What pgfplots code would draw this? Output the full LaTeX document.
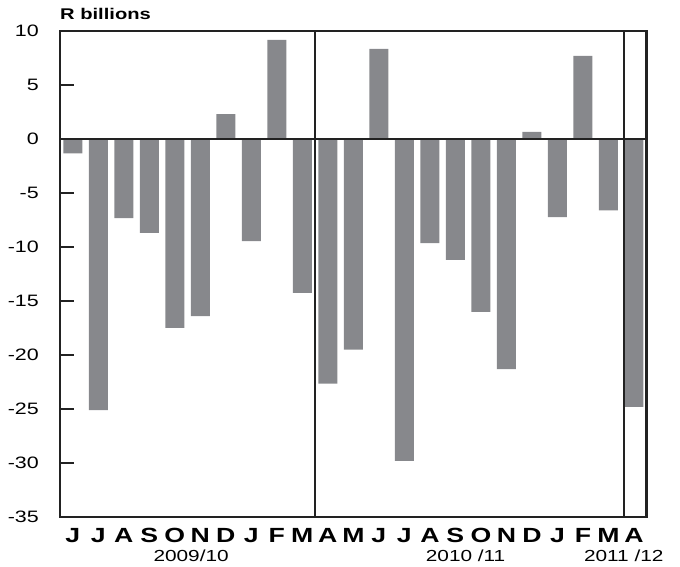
\documentclass[border=0pt]{standalone}
\usepackage{fontspec}
\setmainfont{Liberation Sans}[FakeStretch=1.3]
\usepackage{pgfplots}
\pgfplotsset{compat=1.18}
\definecolor{barcol}{HTML}{87888C}
\definecolor{linecol}{HTML}{222222}
\begin{document}
\begin{tikzpicture}
\path[use as bounding box] (-60pt,-50pt) rectangle (620pt,517pt);
\begin{axis}[
  at={(0pt,0pt)}, anchor=south west,
  scale only axis, width=586.7pt, height=486pt,
  xmin=-0.5, xmax=22.5, ymin=-35, ymax=10,
  clip=false,
  axis line style={line width=2.6pt, linecol},
  xtick={0,...,22},
  xticklabels={J,J,A,S,O,N,D,J,F,M,A,M,J,J,A,S,O,N,D,J,F,M,A},
  xtick style={draw=none},
  ytick={-35,-30,...,10},
  ytick pos=left,
  tick align=inside,
  major tick length=14pt,
  ytick style={line width=2.6pt, linecol},
  /pgf/number format/assume math mode=true,
  yticklabel style={font=\fontsize{16.5}{16.5}\selectfont, anchor=east, inner sep=0pt, xshift=-21pt},
  xticklabel style={font=\bfseries\fontsize{20.5}{20.5}\selectfont, anchor=base, inner sep=0pt, yshift=-26pt},
]
\addplot[ybar, bar width=19pt, fill=barcol, draw=none] coordinates {
(0,-1.33) (1,-25.1) (2,-7.33) (3,-8.7) (4,-17.5) (5,-16.4) (6,2.3) (7,-9.45) (8,9.17) (9,-14.25)
(10,-22.65) (11,-19.5) (12,8.34) (13,-29.8) (14,-9.64) (15,-11.2) (16,-16.0) (17,-21.3) (18,0.67) (19,-7.24) (20,7.7) (21,-6.6)
(22,-24.8)
};
\draw[line width=2pt, linecol] (axis cs:-0.5,0) -- (axis cs:22.5,0);
\draw[line width=2pt, linecol] (axis cs:9.5,-35) -- (axis cs:9.5,10);
\draw[line width=2pt, linecol] (axis cs:21.6,-35) -- (axis cs:21.6,10);
\node[anchor=base west, inner sep=0pt, yshift=11pt, font=\bfseries\fontsize{15.5}{15.5}\selectfont] at (axis cs:-0.5,10) {R billions};
\node[anchor=base, inner sep=0pt, yshift=-45pt, font=\fontsize{16}{16}\selectfont] at (axis cs:4.64,-35) {2009/10};
\node[anchor=base, inner sep=0pt, yshift=-45pt, font=\fontsize{16}{16}\selectfont] at (axis cs:15.4,-35) {2010 /11};
\node[anchor=base, inner sep=0pt, yshift=-45pt, font=\fontsize{16}{16}\selectfont] at (axis cs:21.6,-35) {2011 /12};
\end{axis}
\end{tikzpicture}
\end{document}
